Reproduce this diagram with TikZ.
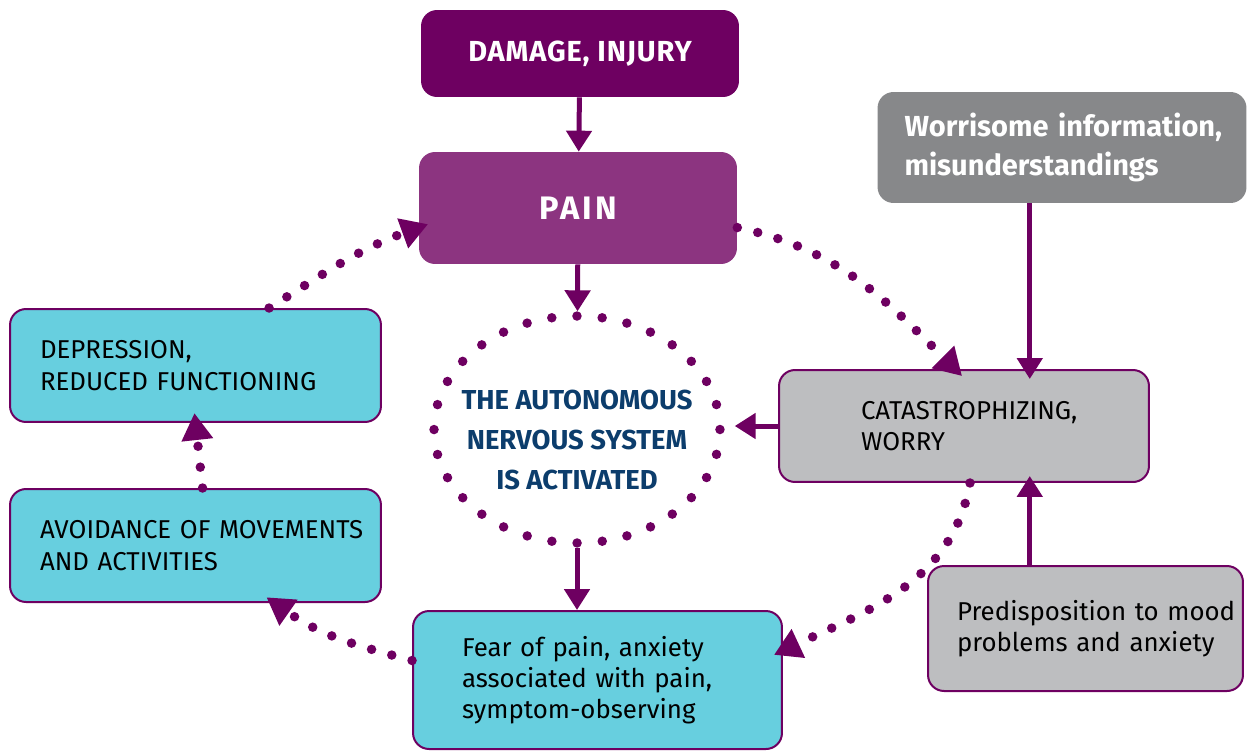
\documentclass[tikz,border=0pt]{standalone}
\usepackage{fontspec}
\setmainfont{Fira Sans}
\usetikzlibrary{shapes,arrows.meta,positioning}
\definecolor{plum}{HTML}{6E0061}
\definecolor{painplum}{HTML}{8C3480}
\definecolor{cyanbox}{HTML}{67CFDF}
\definecolor{lightgrey}{HTML}{BDBEC0}
\definecolor{darkgrey}{HTML}{87888A}
\definecolor{navytext}{HTML}{0C3D6C}
\hyphenpenalty=10000
\exhyphenpenalty=10000

\begin{document}
\begin{tikzpicture}[
    x=0.02cm, y=-0.02cm,
    every node/.style={font=\fontsize{14.7}{17.8}\selectfont},
    cause/.style={rectangle, rounded corners=0.32cm, fill=plum, text=white, minimum width=6.36cm, minimum height=1.74cm, font=\fontsize{16.5}{18}\selectfont\bfseries\addfontfeatures{LetterSpace=3}},
    pain/.style={rectangle, rounded corners=0.32cm, fill=painplum, text=white, minimum width=6.36cm, minimum height=2.24cm, font=\fontsize{18.5}{22}\selectfont\bfseries\addfontfeatures{LetterSpace=10}},
    info/.style={rectangle, rounded corners=0.32cm, fill=darkgrey, text=white, minimum height=2.22cm, text width=6.3cm, inner xsep=0.54cm, align=left, font=\fontsize{16.5}{22.2}\selectfont\bfseries},
    thought/.style={rectangle, rounded corners=0.32cm, draw=plum, line width=0.04cm, fill=lightgrey, align=left},
    effect/.style={rectangle, rounded corners=0.32cm, draw=plum, line width=0.04cm, fill=cyanbox, align=left},
    ans/.style={ellipse, draw=plum, line width=0.19cm, line cap=round, dash pattern=on 0pt off 14.38pt, minimum width=5.72cm, minimum height=4.54cm, inner xsep=-0.3cm, inner ysep=0pt, text height=69pt, align=center, text=navytext, font=\fontsize{15.6}{22.8}\selectfont\bfseries},
    link/.style={draw=plum, line width=0.1cm, -{Triangle[length=0.42cm,width=0.5cm]}},
    dots/.style={draw=plum, line width=0.19cm, line cap=round, dash pattern=on 0pt off 0.42cm, shorten >=-0.2cm, -{Triangle[length=0.54cm,width=0.6cm]}}
]
    \useasboundingbox (0,0) rectangle (1247,751);

    % Top chain
    \node[cause] (damage) at (580,53.5) {DAMAGE, INJURY};
    \node[pain] (pain) at (578,208) {PAIN};
    \node[ans] (ans) at (577,429.5) {THE AUTONOMOUS\\NERVOUS SYSTEM\\IS ACTIVATED};

    % Right side
    \node[info] (worry) at (1062,147.5) {Worrisome~information,\\misunderstandings};
    \node[thought, minimum height=2.24cm, text width=4.12cm, inner xsep=1.64cm] (catas) at (964,426) {CATASTROPHIZING,\\WORRY};
    \node[thought, minimum height=2.5cm, text width=5.14cm, inner xsep=0.58cm] (pred) at (1085.5,628.5) {Predisposition~to~mood\\problems~and~anxiety};

    % Left side and bottom
    \node[effect, minimum height=2.26cm, text width=6.22cm, inner xsep=0.6cm] (depr) at (195.5,365.5) {DEPRESSION,\\REDUCED~FUNCTIONING};
    \node[effect, minimum height=2.26cm, text width=6.22cm, inner xsep=0.6cm] (avoid) at (195.5,545.5) {AVOIDANCE~OF~MOVEMENTS\\AND ACTIVITIES};
    \node[effect, minimum height=2.76cm, text width=5.42cm, inner xsep=0.98cm] (fear) at (597.5,680) {Fear of pain, anxiety\\associated with pain,\\symptom-observing};

    % Solid arrows
    \draw[link] (damage) -- (pain);
    \draw[link] (pain) -- (ans);
    \draw[link] (ans) -- (ans.south |- fear.north);
    \draw[link, shorten >=0.2cm] (catas.west) -- (catas.west -| ans.east);
    \draw[link, shorten >=-0.2cm] (worry.-120) -- (worry.-120 |- catas.north);
    \draw[link, shorten >=-0.14cm] (worry.-120 |- pred.north) -- (worry.-120 |- catas.south);

    % Dotted cycle
    \draw[dots] (pain.-7) to[out=-12, in=135] (catas.99);
    \draw[dots] (catas.-84) to[out=-100, in=25] (fear.9);
    \draw[dots] (fear.174) to[out=165, in=-35] (avoid.-36);
    \draw[dots] (avoid.83) -- (depr.south);
    \draw[dots] (depr.38) to[out=32, in=200] (pain.187);
\end{tikzpicture}
\end{document}
